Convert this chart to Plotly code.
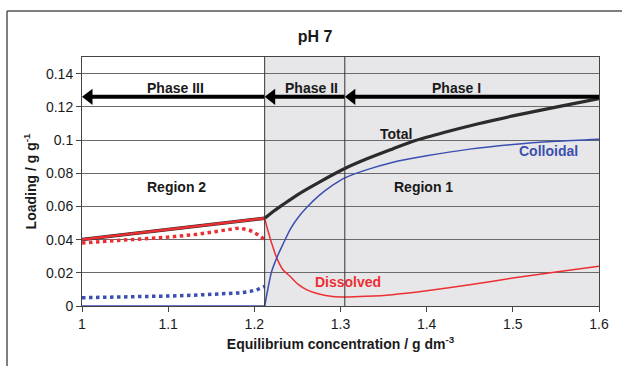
import plotly.graph_objects as go

# Equilibrium concentration (g dm^-3) and loadings (g g^-1)
x_pre = [1.0, 1.05, 1.1, 1.15, 1.2, 1.212]
dissolved_pre = [0.040, 0.043, 0.046, 0.049, 0.052, 0.0528]

x_dot = [1.0, 1.03, 1.06, 1.1, 1.13, 1.16, 1.183, 1.195, 1.204, 1.212]
dissolved_dot = [0.038, 0.039, 0.040, 0.0415, 0.043, 0.0455, 0.047, 0.0455, 0.043, 0.040]
colloidal_dot = [0.005, 0.0052, 0.0055, 0.006, 0.0065, 0.0072, 0.0079, 0.0088, 0.0100, 0.0118]

x_total = [1.212, 1.22, 1.233, 1.25, 1.275, 1.305, 1.33, 1.36, 1.386, 1.42, 1.46, 1.5, 1.55, 1.6]
total_post = [0.0528, 0.0562, 0.061, 0.067, 0.0745, 0.0828, 0.0885, 0.0945, 0.0995, 0.1045,
              0.1098, 0.1145, 0.1198, 0.125]

x_post = [1.212, 1.216, 1.22, 1.226, 1.233, 1.242, 1.251, 1.261, 1.275, 1.291, 1.305, 1.33,
          1.36, 1.4, 1.45, 1.5, 1.55, 1.6]
colloidal_post = [0.0, 0.011, 0.0206, 0.029, 0.037, 0.0465, 0.0535, 0.0595, 0.0665, 0.0728,
                  0.0772, 0.082, 0.0865, 0.0905, 0.0945, 0.0973, 0.0992, 0.1005]
dissolved_post = [0.0528, 0.045, 0.038, 0.029, 0.022, 0.0176, 0.013, 0.0097, 0.0072, 0.0057,
                  0.0054, 0.0058, 0.0068, 0.0092, 0.0128, 0.0168, 0.0205, 0.024]

x_zero = [1.0, 1.212]
colloidal_zero = [0.0, 0.0]

# Phase boundaries, arrows and their labels
phase_edges = [1.0, 1.212, 1.305, 1.6]
phase_labels = ["Phase III", "Phase II", "Phase I"]
phase_label_x = [1.108, 1.266, 1.435]
phase_arrow_y = 0.126
phase_label_y = 0.1315

# Curve and region labels: text, x, y
label_text = ["Total", "Colloidal", "Region 1", "Region 2", "Dissolved"]
label_x = [1.364, 1.541, 1.396, 1.110, 1.309]
label_y = [0.1035, 0.0933, 0.0715, 0.0715, 0.0145]

x_ticks = [1, 1.1, 1.2, 1.3, 1.4, 1.5, 1.6]
y_ticks = [0, 0.02, 0.04, 0.06, 0.08, 0.1, 0.12, 0.14]
y_ticktext = ["0", "0.02", "0.04", "0.06", "0.08", "0.1", "0.12", "0.14"]

BLACK = "#2b2b2b"
RED = "#ec2f33"
BLUE = "#3b4fb0"
TEXT = "#1a1a1a"
FONT = "Liberation Sans, Arial, sans-serif"

W, H = 622, 366
ML, MR, MT, MB = 82, 23, 57, 60
X_RANGE = [1, 1.6]
px_per_x = (W - ML - MR) / (X_RANGE[1] - X_RANGE[0])
HEAD = 14  # arrow head marker size in px


def line_trace(x, y, color, width, dash="solid", shape="linear"):
    return go.Scatter(x=x, y=y, mode="lines", line_shape=shape,
                      line=dict(color=color, width=width, dash=dash, smoothing=0.8),
                      hoverinfo="skip")


fig = go.Figure()

# Total: below the Phase II/III boundary it coincides with the dissolved loading
fig.add_trace(line_trace(x_pre, dissolved_pre, BLACK, 3.5))
fig.add_trace(line_trace(x_total, total_post, BLACK, 3.2, shape="spline"))
fig.add_trace(line_trace(x_dot, dissolved_dot, RED, 3.5, dash="dot"))
fig.add_trace(line_trace(x_dot, colloidal_dot, BLUE, 3.5, dash="dot"))
fig.add_trace(line_trace(x_pre, dissolved_pre, RED, 2.5))
fig.add_trace(line_trace(x_post, dissolved_post, RED, 1.5, shape="spline"))
fig.add_trace(line_trace(x_zero, colloidal_zero, BLUE, 1.5))
fig.add_trace(line_trace(x_post, colloidal_post, BLUE, 1.5, shape="spline"))

# Phase arrows: thick shaft plus a left-pointing head at each boundary
for i in range(len(phase_labels)):
    left, right = phase_edges[i], phase_edges[i + 1]
    head_x = left + (HEAD / 2) / px_per_x
    fig.add_trace(go.Scatter(x=[head_x, right], y=[phase_arrow_y, phase_arrow_y], mode="lines",
                             line=dict(color="black", width=4), hoverinfo="skip"))
    fig.add_trace(go.Scatter(x=[head_x], y=[phase_arrow_y], mode="markers",
                             marker=dict(symbol="triangle-left", size=HEAD, color="black",
                                         line=dict(width=0)), hoverinfo="skip"))

shapes = [
    dict(type="rect", xref="x", yref="paper", x0=phase_edges[1], x1=phase_edges[3], y0=0, y1=1,
         fillcolor="#e7e7ea", line=dict(width=0), layer="below"),
    dict(type="line", xref="x", yref="paper", x0=phase_edges[1], x1=phase_edges[1], y0=0, y1=1,
         line=dict(color="#333", width=1)),
    dict(type="line", xref="x", yref="paper", x0=phase_edges[2], x1=phase_edges[2], y0=0, y1=1,
         line=dict(color="#333", width=1)),
    # outer frame
    dict(type="line", xref="paper", yref="paper",
         x0=(7 - ML) / (W - ML - MR), x1=(7 - ML) / (W - ML - MR),
         y0=-MB / (H - MT - MB) - 0.05, y1=1 + (MT - 11) / (H - MT - MB),
         line=dict(color="#555", width=1.5)),
    dict(type="line", xref="paper", yref="paper",
         x0=(7 - ML) / (W - ML - MR), x1=1 + MR / (W - ML - MR) + 0.05,
         y0=1 + (MT - 11) / (H - MT - MB), y1=1 + (MT - 11) / (H - MT - MB),
         line=dict(color="#555", width=1.5)),
]

annotations = []
for lab, lx in zip(phase_labels, phase_label_x):
    annotations.append(dict(x=lx, y=phase_label_y, text=f"<b>{lab}</b>", showarrow=False,
                            font=dict(size=14, color=TEXT, family=FONT)))

label_color = {"Colloidal": BLUE, "Dissolved": RED}
for txt, tx, ty in zip(label_text, label_x, label_y):
    annotations.append(dict(x=tx, y=ty, text=f"<b>{txt}</b>", showarrow=False,
                            font=dict(size=14, color=label_color.get(txt, TEXT), family=FONT)))

fig.update_layout(
    width=W, height=H,
    margin=dict(l=ML, r=MR, t=MT, b=MB),
    paper_bgcolor="white", plot_bgcolor="white",
    showlegend=False,
    title=dict(text="<b>pH 7</b>", x=315 / W, xanchor="center", y=1 - 36 / H, yanchor="middle",
               font=dict(size=16, color=TEXT, family=FONT)),
    shapes=shapes, annotations=annotations,
    font=dict(family=FONT, color=TEXT),
)

fig.update_xaxes(range=X_RANGE, tickvals=x_ticks, ticktext=[str(v) for v in x_ticks],
                 showgrid=False, zeroline=False, showline=True, linecolor="#444", linewidth=1,
                 mirror=True, ticks="outside", ticklen=5, tickcolor="#444",
                 tickfont=dict(size=14, family=FONT, color=TEXT),
                 title=dict(text="<b>Equilibrium concentration / g dm<sup>-3</sup></b>",
                            font=dict(size=14, family=FONT, color=TEXT), standoff=8))
fig.update_yaxes(range=[0, 0.15], tickvals=y_ticks, ticktext=y_ticktext,
                 showgrid=True, gridcolor="#6a6a6a", gridwidth=1, zeroline=False,
                 showline=True, linecolor="#444", linewidth=1, mirror=True,
                 ticks="outside", ticklen=5, tickcolor="#444",
                 tickfont=dict(size=14, family=FONT, color=TEXT),
                 title=dict(text="<b>Loading / g g<sup>-1</sup></b>",
                            font=dict(size=14, family=FONT, color=TEXT), standoff=6))

fig.write_html("out.html")
